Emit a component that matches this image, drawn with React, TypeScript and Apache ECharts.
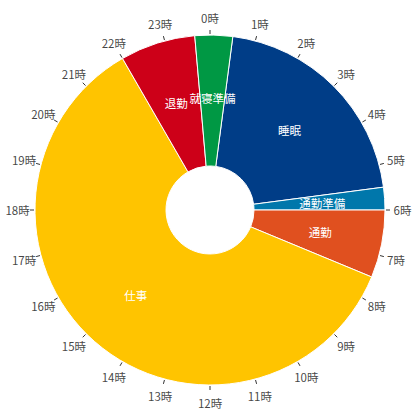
import React, { useEffect, useRef } from "react";
import * as echarts from "echarts";

// Activities in the day, in order, starting at 0:30
const activities = ["睡眠", "通勤準備", "通勤", "仕事", "退勤", "就寝準備"];
// Duration of each activity in minutes
const durations = [300, 30, 90, 870, 100, 50];
const colors = ["#003d87", "#0077ab", "#e0501f", "#ffc400", "#cd0018", "#009844"];
// Start of the first activity (minutes after midnight)
const startMinute = 30;
// Hour tick labels
const hours = Array.from({ length: 24 }, (_, i) => i);
const hourLabels = hours.map((h) => `${h}時`);

export default function App() {
  const ref = useRef<HTMLDivElement>(null);
  useEffect(() => {
    if (!ref.current) return;
    const chart = echarts.init(ref.current, undefined, { renderer: "svg" });
    const font = '"Noto Sans CJK JP", "Noto Sans", sans-serif';
    chart.setOption({
      animation: false,
      textStyle: { fontFamily: font },
      polar: { center: ["50%", "50%"], radius: 176 },
      angleAxis: {
        type: "value",
        min: 0,
        max: 24,
        interval: 1,
        startAngle: 90,
        clockwise: true,
        axisLine: { show: false },
        axisTick: { show: true, length: 4, lineStyle: { color: "#333", width: 1 } },
        axisLabel: { show: false },
        splitLine: { show: false },
        splitArea: { show: false },
      },
      radiusAxis: {
        type: "value",
        min: 0,
        max: 176,
        show: false,
        axisLine: { show: false },
        axisTick: { show: false },
        axisLabel: { show: false },
        splitLine: { show: false },
      },
      series: [
        {
          type: "pie",
          center: ["50%", "50%"],
          radius: [44, 175],
          startAngle: 90 - (startMinute / 1440) * 360,
          clockwise: true,
          avoidLabelOverlap: false,
          silent: true,
          itemStyle: { borderColor: "#fff", borderWidth: 1 },
          label: {
            show: true,
            position: "inside",
            formatter: "{b}",
            color: "#fff",
            fontSize: 11.5,
            fontFamily: font,
          },
          labelLine: { show: false },
          emphasis: { disabled: true },
          data: activities.map((name, i) => ({
            name,
            value: durations[i],
            itemStyle: { color: colors[i] },
          })),
        },
        {
          type: "scatter",
          coordinateSystem: "polar",
          symbolSize: 0,
          silent: true,
          clip: false,
          label: {
            show: true,
            position: "inside",
            formatter: (p: any) => hourLabels[p.dataIndex],
            color: "#111",
            fontSize: 11.5,
            fontFamily: font,
          },
          data: hours.map((h) => [192.5, h]),
        },
      ],
    });
    return () => chart.dispose();
  }, []);
  return (
    <div
      ref={ref}
      style={{ position: "fixed", left: 0, top: 0, width: 420, height: 420, background: "#fff" }}
    />
  );
}
